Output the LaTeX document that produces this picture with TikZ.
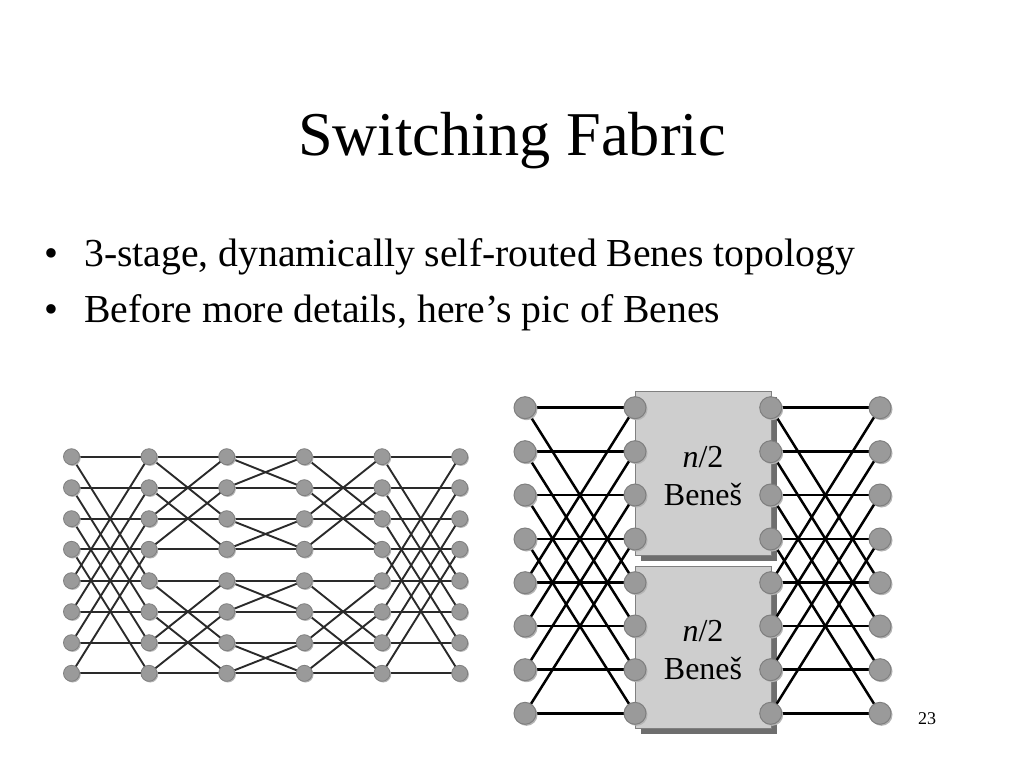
\documentclass[tikz,border=0pt]{standalone}
\usepackage{fontspec}
\setmainfont{Liberation Serif}
\usetikzlibrary{shadows}
\pgfdeclarelayer{boxlayer}
\pgfdeclarelayer{edgelayer}
\pgfsetlayers{boxlayer,edgelayer,main}
\definecolor{nodefill}{HTML}{9A9A9A}
\definecolor{nodeline}{HTML}{7F7F7F}
\definecolor{nodeshade}{HTML}{B4B4B4}
\definecolor{boxfill}{HTML}{CECECE}
\definecolor{boxline}{HTML}{808080}
\definecolor{boxshade}{HTML}{6E6E6E}
\definecolor{linecol}{HTML}{2A2A2A}
\tikzset{
  x=1pt,y=-1pt,
  lnode/.style={circle,draw=nodeline,line width=0.8pt,fill=nodefill,minimum size=16pt,inner sep=0pt,
    copy shadow={shadow xshift=1.2pt,shadow yshift=-1.2pt,draw=none,fill=nodeshade}},
  rnode/.style={circle,draw=nodeline,line width=1pt,fill=nodefill,minimum size=22pt,inner sep=0pt,
    copy shadow={shadow xshift=1.5pt,shadow yshift=-1.5pt,draw=none,fill=nodeshade}},
  ledge/.style={linecol,line width=1.9pt},
  redge/.style={black,line width=2.5pt},
  benes/.style={draw=boxline,line width=1pt,fill=boxfill,inner sep=0pt,
    copy shadow={shadow xshift=5.5pt,shadow yshift=-5pt,draw=none,fill=boxshade}},
  titletext/.style={anchor=base,inner sep=0pt,font=\fontsize{62.3}{63}\selectfont},
  bullettext/.style={anchor=base west,inner sep=0pt,font=\fontsize{39.7}{40}\selectfont},
  boxtext/.style={anchor=base,inner sep=0pt,font=\fontsize{32}{32}\selectfont},
  pagetext/.style={anchor=base,inner sep=0pt,font=\fontsize{18}{18}\selectfont},
}
\begin{document}
\begin{tikzpicture}
\useasboundingbox (0,0) rectangle (1024,768);
\node[titletext] (title) at (512,155) {Switching Fabric};
\node[bullettext] (b1) at (44,266) {•};
\node[bullettext] (t1) at (84,266) {3-stage, dynamically self-routed Benes topology};
\node[bullettext] (b2) at (44,322) {•};
\node[bullettext] (t2) at (84,322) {Before more details, here’s pic of Benes};
\node[pagetext] (page) at (927,724) {23};
% left network nodes
\foreach \c/\x in {0/71.5,1/149,2/226.7,3/304.3,4/382,5/459.7}
  \foreach \r/\y in {0/456.7,1/487.7,2/518.7,3/549.3,4/580.7,5/611.7,6/642.7,7/673.3}
    \node[lnode] (L\c-\r) at (\x,\y) {};
% right network nodes
\foreach \c/\x in {0/525,1/635,2/770.7,3/880}
  \foreach \r/\y in {0/407.7,1/451.7,2/495,3/539,4/582.7,5/626,6/669.7,7/713.3}
    \node[rnode] (R\c-\r) at (\x,\y) {};
\begin{pgfonlayer}{boxlayer}
  \node[benes,minimum width=136pt,minimum height=164pt] (box1) at (703,473.5) {};
  \node[benes,minimum width=136pt,minimum height=162pt] (box2) at (703,647.5) {};
  \node[boxtext] (n1) at (703,467) {\textit{n}/2};
  \node[boxtext] (m1) at (703,505) {Beneš};
  \node[boxtext] (n2) at (703,641) {\textit{n}/2};
  \node[boxtext] (m2) at (703,679) {Beneš};
\end{pgfonlayer}
\begin{pgfonlayer}{edgelayer}
  % left: straight
  \foreach \c/\d in {0/1,1/2,2/3,3/4,4/5}
    \foreach \r in {0,...,7}
      \draw[ledge] (L\c-\r.center) -- (L\d-\r.center);
  % left: outer butterflies
  \foreach \c/\d in {0/1,4/5}
    \foreach \a/\b in {0/4,1/5,2/6,3/7,4/0,5/1,6/2,7/3}
      \draw[ledge] (L\c-\a.center) -- (L\d-\b.center);
  % left: second level
  \foreach \c/\d in {1/2,3/4}
    \foreach \a/\b in {0/2,1/3,2/0,3/1,4/6,5/7,6/4,7/5}
      \draw[ledge] (L\c-\a.center) -- (L\d-\b.center);
  % left: middle
  \foreach \a/\b in {0/1,1/0,2/3,3/2,4/5,5/4,6/7,7/6}
    \draw[ledge] (L2-\a.center) -- (L3-\b.center);
  % right
  \foreach \c/\d in {0/1,2/3} {
    \foreach \r in {0,...,7}
      \draw[redge] (R\c-\r.center) -- (R\d-\r.center);
    \foreach \a/\b in {0/4,1/5,2/6,3/7,4/0,5/1,6/2,7/3}
      \draw[redge] (R\c-\a.center) -- (R\d-\b.center);
  }
\end{pgfonlayer}
\end{tikzpicture}
\end{document}
